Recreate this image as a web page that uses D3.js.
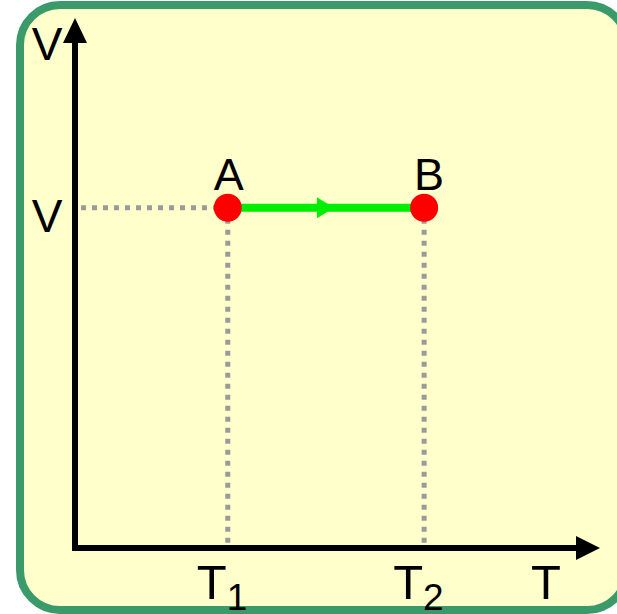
<!DOCTYPE html>
<html><head><meta charset="utf-8">
<script src="https://cdn.jsdelivr.net/npm/d3@7"></script>
<style>html,body{margin:0;padding:0;background:#fff;}svg{display:block;}</style>
</head><body>
<script>
// Data
const stateNames = ["A", "B"];
const stateT = [2.91, 6.65];
const stateV = [6.42, 6.42];
const tTickLabels = [["T", "1"], ["T", "2"]];
const vTickLabel = "V";
const xAxisLabel = "T";
const yAxisLabel = "V";

const W = 617, H = 614;
const svg = d3.select("body").append("svg").attr("width", W).attr("height", H);
const font = "'Liberation Sans', Arial, sans-serif";

// Panel
svg.append("rect").attr("x", 20).attr("y", 5).attr("width", 607).attr("height", 605)
  .attr("rx", 40).attr("ry", 40).attr("fill", "#ffffcc").attr("stroke", "#3a9a6a").attr("stroke-width", 8);

const x = d3.scaleLinear().domain([0, 10]).range([75, 600]);
const y = d3.scaleLinear().domain([0, 10]).range([548, 18]);

// Dotted guide lines
const guides = svg.append("g").attr("stroke", "#9a9a9a").attr("stroke-width", 5).attr("stroke-dasharray", "5,6").attr("fill", "none");
guides.append("line").attr("x1", x(0) + 6).attr("x2", x(stateT[0])).attr("y1", y(stateV[0])).attr("y2", y(stateV[0]));
stateT.forEach((t, i) => {
  guides.append("line").attr("x1", x(t)).attr("x2", x(t)).attr("y1", y(stateV[i])).attr("y2", y(0) - 3);
});

// Axes
const ax = svg.append("g");
ax.append("line").attr("x1", x(0)).attr("x2", x(0)).attr("y1", y(0) + 3).attr("y2", y(10) + 22)
  .attr("stroke", "#000").attr("stroke-width", 6);
ax.append("line").attr("x1", x(0) - 3).attr("x2", x(10) - 22).attr("y1", y(0)).attr("y2", y(0))
  .attr("stroke", "#000").attr("stroke-width", 6);
ax.append("path").attr("d", `M${x(0)},${y(10)} L${x(0) + 12},${y(10) + 25} L${x(0) - 12},${y(10) + 25} Z`).attr("fill", "#000");
ax.append("path").attr("d", `M${x(10)},${y(0)} L${x(10) - 24},${y(0) - 12} L${x(10) - 24},${y(0) + 12} Z`).attr("fill", "#000");

// Process line A -> B
const xa = x(stateT[0]), xb = x(stateT[1]), yv = y(stateV[0]);
svg.append("line").attr("x1", xa).attr("x2", xb).attr("y1", yv).attr("y2", yv)
  .attr("stroke", "#00ee00").attr("stroke-width", 8);
const xm = (xa + xb) / 2 + 8;
svg.append("path").attr("d", `M${xm},${yv} L${xm - 17},${yv - 10.5} L${xm - 17},${yv + 10.5} Z`).attr("fill", "#00ee00");

// Points
svg.selectAll("circle.pt").data(stateNames).join("circle").attr("class", "pt")
  .attr("cx", (d, i) => x(stateT[i])).attr("cy", (d, i) => y(stateV[i])).attr("r", 14).attr("fill", "#ff0000");
svg.selectAll("text.pt").data(stateNames).join("text").attr("class", "pt")
  .attr("x", (d, i) => x(stateT[i]) + (i === 0 ? 1 : 5)).attr("y", (d, i) => y(stateV[i]) - 18)
  .attr("text-anchor", "middle").attr("font-family", font).attr("font-size", 45).attr("fill", "#000").text(d => d);

// Labels
svg.append("text").attr("x", 47).attr("y", 60).attr("text-anchor", "middle").attr("font-family", font)
  .attr("font-size", 46).text(yAxisLabel);
svg.append("text").attr("x", 47).attr("y", yv + 24).attr("text-anchor", "middle").attr("font-family", font)
  .attr("font-size", 46).text(vTickLabel);
stateT.forEach((t, i) => {
  const tx = svg.append("text").attr("x", x(t) - 31).attr("y", 599).attr("font-family", font).attr("font-size", 49);
  tx.append("tspan").text(tTickLabels[i][0]);
  tx.append("tspan").attr("dy", 11).attr("font-size", 37).text(tTickLabels[i][1]);
});
svg.append("text").attr("x", 546).attr("y", 599).attr("text-anchor", "middle").attr("font-family", font)
  .attr("font-size", 49).text(xAxisLabel);
</script>
</body></html>
